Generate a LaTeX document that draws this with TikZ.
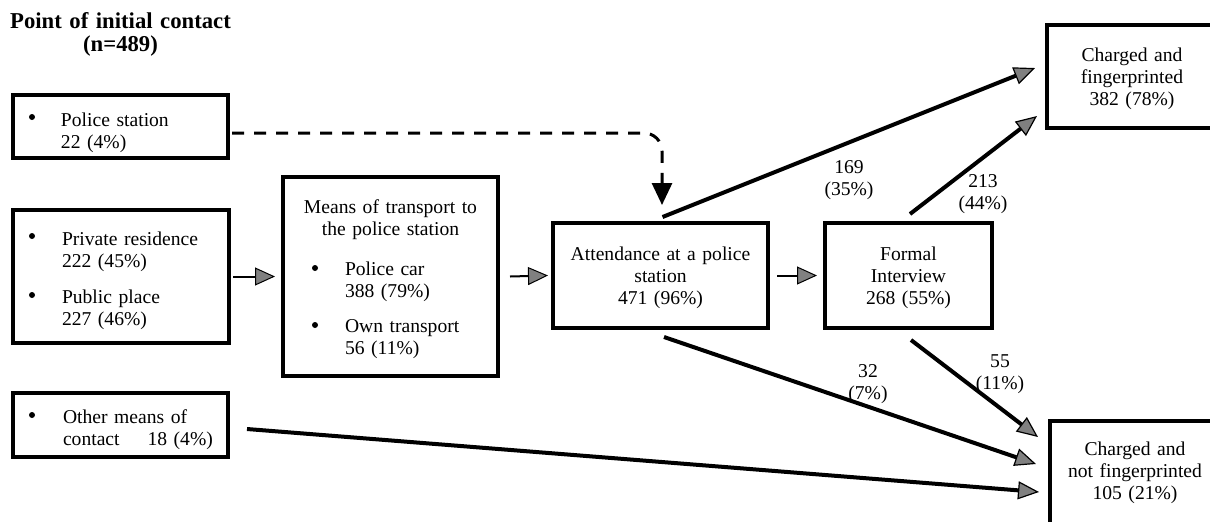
\documentclass[tikz,border=0pt]{standalone}
\usepackage{fontspec}
\setmainfont{Liberation Serif}
\usetikzlibrary{arrows.meta,calc}
\begin{document}
\begin{tikzpicture}[x=0.5pt,y=-0.5pt,
  every node/.style={inner sep=0pt, outer sep=0pt},
  flowbox/.style={draw, line width=2.2pt, rectangle},
  bodytext/.style={font=\fontsize{9.8pt}{11pt}\selectfont},
  lefttext/.style={bodytext, anchor=base west, text width=95pt, align=left},
  centertext/.style={bodytext, anchor=base, text width=105pt, align=center},
  numlabel/.style={bodytext, anchor=base, text width=40pt, align=center},
  bulletdot/.style={circle, fill=black, minimum size=3pt},
  longarrow/.style={line width=2pt, -{Triangle[length=10.5pt,width=9pt,fill=black!50,line width=0.6pt]}},
  shortarrow/.style={line width=1pt, -{Triangle[length=10pt,width=9pt,fill=black!50,line width=0.5pt]}},
  dasharrow/.style={line width=1.5pt, dash pattern=on 6pt off 5pt, rounded corners=9pt,
    -{Triangle[length=11pt,width=10pt,fill=black]}}
]
\useasboundingbox (0,0) rectangle (1210,521);

% title
\node[anchor=base, text width=140pt, align=center,
      font=\fontsize{11.35pt}{11.5pt}\selectfont\bfseries] (title) at (120.5,28)
      {Point of initial contact\\(n=489)};

% boxes
\node[flowbox, minimum width=107.5pt, minimum height=31.5pt] (ps) at (120.5,126.5) {};
\node[flowbox, minimum width=108pt, minimum height=66.5pt] (pr) at (121,276.5) {};
\node[flowbox, minimum width=107.5pt, minimum height=32pt] (other) at (120.5,425) {};
\node[flowbox, minimum width=107.5pt, minimum height=99.5pt] (means) at (390.5,276.5) {};
\node[flowbox, minimum width=107.5pt, minimum height=52.5pt] (att) at (660.5,275.5) {};
\node[flowbox, minimum width=83.5pt, minimum height=52.5pt] (formal) at (908.5,275.5) {};
\node[flowbox, minimum width=84.5pt, minimum height=51.5pt] (cfp) at (1131.5,76.5) {};
\node[flowbox, minimum width=83pt, minimum height=55.5pt] (cnfp) at (1133,476.5) {};

% texts in left boxes
\node[bulletdot] (psb) at (32,117) {};
\node[lefttext] (pst) at (61,126) {Police station\\22 (4\%)};
\node[bulletdot] (prb1) at (32,236) {};
\node[lefttext] (prt1) at (62,245) {Private residence\\222 (45\%)};
\node[bulletdot] (prb2) at (32,295) {};
\node[lefttext] (prt2) at (62,303) {Public place\\227 (46\%)};
\node[bulletdot] (ob) at (32,415) {};
\node[lefttext] (ot) at (63,423) {Other means of\\contact\hspace{14pt}18 (4\%)};

% means box
\node[centertext] (mt) at (390.5,213) {Means of transport to\\the police station};
\node[bulletdot] (mb1) at (315,268) {};
\node[lefttext] (mt1) at (345,275) {Police car\\388 (79\%)};
\node[bulletdot] (mb2) at (315,325) {};
\node[lefttext] (mt2) at (345,332) {Own transport\\56 (11\%)};

% other boxes
\node[centertext] (attt) at (660.5,260) {Attendance at a police\\station\\471 (96\%)};
\node[centertext, text width=80pt] (formalt) at (908.5,260) {Formal\\Interview\\268 (55\%)};
\node[centertext, text width=82pt] (cfpt) at (1132,61) {Charged and\\fingerprinted\\382 (78\%)};
\node[centertext, text width=82pt] (cnfpt) at (1135,455) {Charged and\\not fingerprinted\\105 (21\%)};

% connectors
\draw[dasharrow] ([shift={(2pt,-3.25pt)}]ps.east) -| ([shift={(0.75pt,9pt)}]att.north);
\draw[shortarrow] ([xshift=2pt]pr.east) -- ([xshift=-4pt]means.west);
\draw[shortarrow] ([xshift=6pt]means.east) -- ([xshift=-2.5pt]att.west);
\draw[shortarrow] ([xshift=4.5pt]att.east) -- ([xshift=-4pt]formal.west);
\draw[longarrow] ([shift={(1pt,3pt)}]att.north) -- ([shift={(-6pt,4.25pt)}]cfp.west);
\draw[longarrow] ([shift={(0.75pt,4.5pt)}]formal.north) -- ([shift={(-5pt,6pt)}]cfp.south west);
\draw[longarrow] ([shift={(1.75pt,-4.5pt)}]att.south) -- ([shift={(-7pt,6.25pt)}]cnfp.west);
\draw[longarrow] ([shift={(1.25pt,-6pt)}]formal.south) -- ([shift={(-6pt,-8pt)}]cnfp.north west);
\draw[longarrow] ([shift={(9.5pt,-2pt)}]other.east) -- ([shift={(-5.5pt,-7.75pt)}]cnfp.west);

% labels
\node[numlabel] (l169) at (849,173) {169\\(35\%)};
\node[numlabel] (l213) at (983,187) {213\\(44\%)};
\node[numlabel] (l32) at (868,377) {32\\(7\%)};
\node[numlabel] (l55) at (1000,367) {55\\(11\%)};
\end{tikzpicture}
\end{document}
